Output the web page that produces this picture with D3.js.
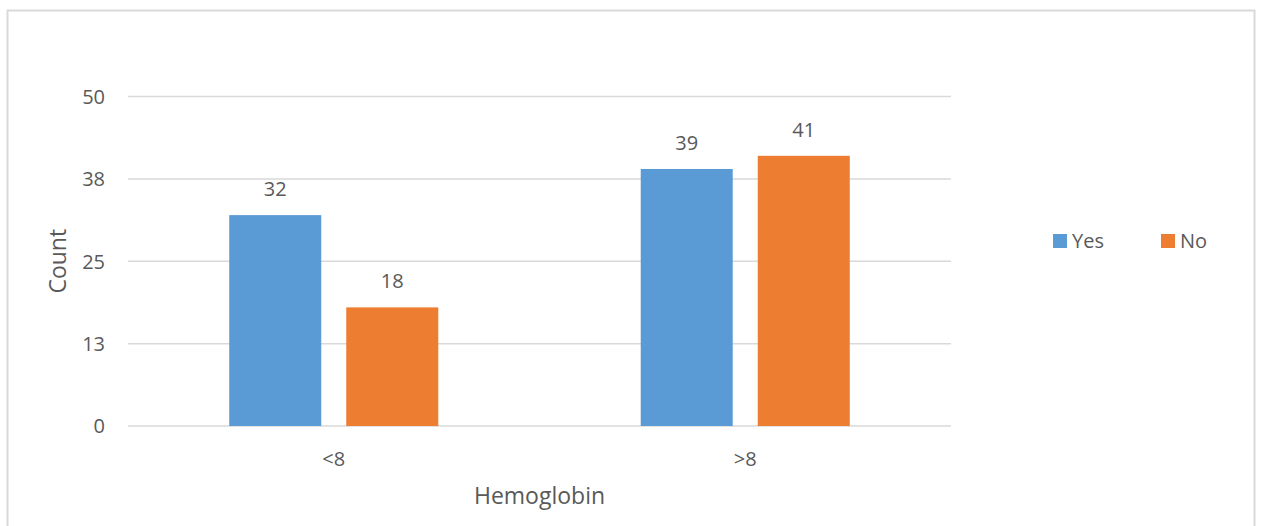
<!DOCTYPE html>
<html>
<head>
<meta charset="utf-8">
<script src="https://cdn.jsdelivr.net/npm/d3@7"></script>
<style>
  html, body { margin: 0; padding: 0; background: #fff; }
  svg { display: block; }
  text { font-family: "Open Sans", "Noto Sans", sans-serif; fill: #595959; }
</style>
</head>
<body>
<svg id="chart" width="1261" height="526"></svg>
<script>
// Hemoglobin groups and counts per answer
const categories = ["<8", ">8"];
const seriesNames = ["Yes", "No"];
const yesValues = [32, 39];
const noValues = [18, 41];
const yTickValues = [0, 12.5, 25, 37.5, 50];
const yTickLabels = ["0", "13", "25", "38", "50"];
const colors = { Yes: "#5B9BD5", No: "#ED7D31" };

const svg = d3.select("#chart");

// chart border
svg.append("rect")
  .attr("x", 7.5).attr("y", 10.5)
  .attr("width", 1247).attr("height", 540)
  .attr("fill", "#fff")
  .attr("stroke", "#d9d9d9").attr("stroke-width", 2);

const plot = { left: 128, right: 951, top: 96.5, bottom: 426 };

const x0 = d3.scaleBand()
  .domain(categories)
  .range([plot.left, plot.right])
  .paddingInner(0).paddingOuter(0);

const y = d3.scaleLinear().domain([0, 50]).range([plot.bottom, plot.top]);

// gridlines
svg.append("g")
  .selectAll("line")
  .data(yTickValues)
  .join("line")
  .attr("x1", plot.left).attr("x2", plot.right)
  .attr("y1", d => y(d)).attr("y2", d => y(d))
  .attr("stroke", "#d9d9d9").attr("stroke-width", 1.5);

// y axis labels
const yAxis = d3.axisLeft(y)
  .tickValues(yTickValues)
  .tickFormat((d, i) => yTickLabels[i])
  .tickSize(0).tickPadding(0);
const gy = svg.append("g").attr("transform", `translate(${plot.left - 23},0)`).call(yAxis);
gy.select(".domain").remove();
gy.selectAll("text")
  .attr("dy", "0.34em")
  .style("font-family", '"Open Sans", sans-serif')
  .style("font-size", "20px").attr("fill", "#595959");

// x axis labels
const xAxis = d3.axisBottom(x0).tickSize(0).tickPadding(0);
const gx = svg.append("g").attr("transform", `translate(0,${plot.bottom})`).call(xAxis);
gx.select(".domain").remove();
gx.selectAll("text")
  .attr("y", 40).attr("dy", 0)
  .style("font-family", '"Open Sans", sans-serif')
  .style("font-size", "20px").attr("fill", "#595959");

// bars: gap width 110% between groups, small gap between the two series
const band = x0.bandwidth();
const gapRatio = 25 / 92;
const barW = band / (2 + 2.2 + gapRatio);
const gap = barW * gapRatio;
const outer = (band - 2 * barW - gap) / 2;

const rows = categories.map((c, i) => ({ cat: c, Yes: yesValues[i], No: noValues[i] }));

const groups = svg.append("g").selectAll("g")
  .data(rows)
  .join("g")
  .attr("transform", d => `translate(${x0(d.cat)},0)`);

seriesNames.forEach((s, si) => {
  const bx = outer + si * (barW + gap);
  groups.append("rect")
    .attr("x", bx)
    .attr("y", d => y(d[s]))
    .attr("width", barW)
    .attr("height", d => y(0) - y(d[s]))
    .attr("fill", colors[s]);
  groups.append("text")
    .attr("x", bx + barW / 2)
    .attr("y", d => y(d[s]) - 19)
    .attr("text-anchor", "middle")
    .style("font-size", "20px")
    .text(d => d[s]);
});

// axis titles
svg.append("text")
  .attr("x", (plot.left + plot.right) / 2)
  .attr("y", 504)
  .attr("text-anchor", "middle")
  .style("font-size", "23px")
  .text("Hemoglobin");

svg.append("text")
  .attr("transform", `translate(66,${(plot.top + plot.bottom) / 2}) rotate(-90)`)
  .attr("text-anchor", "middle")
  .style("font-size", "23px")
  .text("Count");

// legend
const legend = svg.append("g");
const legendX = [1053, 1161];
seriesNames.forEach((s, i) => {
  legend.append("rect")
    .attr("x", legendX[i]).attr("y", 234)
    .attr("width", 14).attr("height", 14)
    .attr("fill", colors[s]);
  legend.append("text")
    .attr("x", legendX[i] + 19).attr("y", 248)
    .style("font-size", "20px")
    .text(s);
});
</script>
</body>
</html>
